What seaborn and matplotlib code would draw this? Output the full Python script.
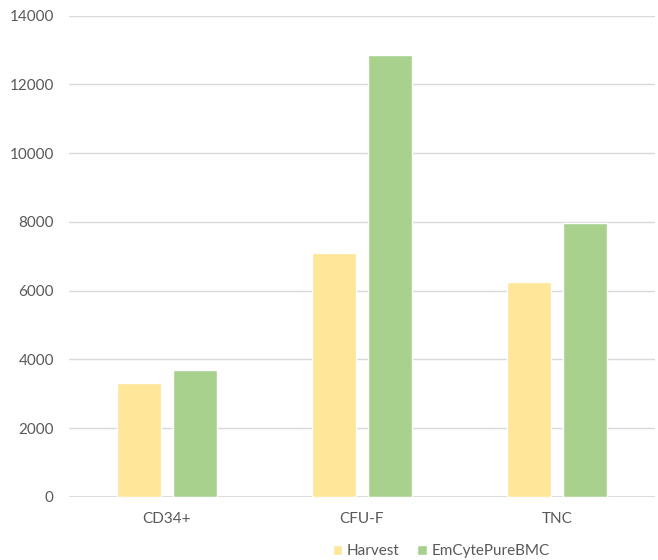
import pandas as pd
import seaborn as sns
import matplotlib.pyplot as plt

categories = ["CD34+", "CFU-F", "TNC"]
harvest = [3300, 7080, 6255]
emcyte = [3690, 12860, 7975]
series_names = ["Harvest", "EmCytePureBMC"]

df = pd.DataFrame({
    "category": categories * 2,
    "value": harvest + emcyte,
    "series": [series_names[0]] * 3 + [series_names[1]] * 3,
})

sns.set_style("white")
plt.rcParams["font.family"] = ["Lato", "DejaVu Sans"]
text_color = "#595959"

fig = plt.figure(figsize=(6.58, 5.6), dpi=100)
ax = fig.add_axes([0.105, 0.113, 0.89, 0.859])

sns.barplot(data=df, x="category", y="value", hue="series",
            palette=["#FFE699", "#A9D18E"], width=0.574, gap=0.21,
            saturation=1, ax=ax, legend=True)

ax.set_ylim(0, 14000)
ax.set_yticks(range(0, 14001, 2000))
ax.yaxis.grid(True, color="#D9D9D9", linewidth=1)
ax.set_axisbelow(True)
for s in ax.spines.values():
    s.set_visible(False)
ax.axhline(0, color="#D9D9D9", linewidth=1.2, zorder=0)
ax.set_xlabel("")
ax.set_ylabel("")
ax.tick_params(axis="both", length=0, labelsize=11, colors=text_color)
ax.tick_params(axis="y", pad=11)
ax.tick_params(axis="x", pad=11)

# legend sits a bit right of centre in the original
handles, labels = ax.get_legend_handles_labels()
ax.legend(handles, labels, loc="upper center", bbox_to_anchor=(0.635, -0.07),
          ncol=2, frameon=False, fontsize=11, handlelength=0.6,
          handleheight=0.6, handletextpad=0.3, columnspacing=1.2,
          labelcolor=text_color)

fig.savefig("out.png", dpi=100)
